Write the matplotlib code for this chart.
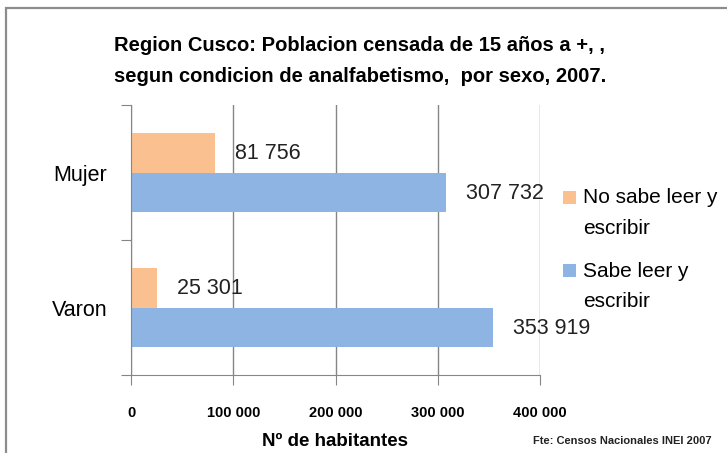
import matplotlib.pyplot as plt
import matplotlib.ticker as ticker
from matplotlib.patches import Rectangle
import numpy as np

# Data
categories = ['Varon', 'Mujer']
no_sabe = [25301, 81756]
sabe = [353919, 307732]
series_names = ['No sabe leer y\nescribir', 'Sabe leer y\nescribir']
x_ticks = [0, 100000, 200000, 300000, 400000]

ORANGE = '#FAC090'
BLUE = '#8EB4E3'
GRID = '#868686'

plt.rcParams['font.family'] = ['Liberation Sans', 'DejaVu Sans']

fig = plt.figure(figsize=(7.27, 4.53), dpi=100)
W, H = 727, 453

# outer chart frame (partly cut off on the right/bottom)
frame = Rectangle((6 / W, -0.1), 1.2, 1 - 8 / H + 0.1, transform=fig.transFigure,
                  fill=False, edgecolor='#8c8c8c', linewidth=1.6)
fig.patches.append(frame)

ax = fig.add_axes([131 / W, 1 - 375 / H, (540 - 131) / W, (375 - 105) / H])

y = np.arange(len(categories))
h = 0.296
ax.barh(y + h / 2, no_sabe, height=h, color=ORANGE, label=series_names[0], zorder=3)
ax.barh(y - h / 2, sabe, height=h, color=BLUE, label=series_names[1], zorder=3)

def fmt(v):
    return '{:,}'.format(v).replace(',', ' ')

for yi, v in zip(y, no_sabe):
    ax.annotate(fmt(v), (v, yi + h / 2), xytext=(20, -1), textcoords='offset pixels',
                va='center', ha='left', fontsize=15.5, color='#222222', zorder=4)
for yi, v in zip(y, sabe):
    ax.annotate(fmt(v), (v, yi - h / 2), xytext=(20, -1), textcoords='offset pixels',
                va='center', ha='left', fontsize=15.5, color='#222222', zorder=4)

ax.set_xlim(0, 400000)
ax.set_ylim(-0.5, 1.5)

ax.xaxis.set_major_locator(ticker.FixedLocator(x_ticks))
ax.set_xticklabels([fmt(v) for v in x_ticks], fontsize=10.5, fontweight='bold')
ax.tick_params(axis='x', direction='out', length=7, color=GRID, pad=15)

ax.yaxis.set_major_locator(ticker.FixedLocator([-0.5, 0.5, 1.5]))
ax.yaxis.set_major_formatter(ticker.NullFormatter())
ax.yaxis.set_minor_locator(ticker.FixedLocator(y))
ax.yaxis.set_minor_formatter(ticker.FixedFormatter(categories))
ax.tick_params(axis='y', which='major', direction='out', length=7, color=GRID)
ax.tick_params(axis='y', which='minor', length=0, labelsize=15.5, pad=17)

ax.grid(axis='x', color=GRID, linewidth=1, zorder=0)
for s in ['top', 'right']:
    ax.spines[s].set_visible(False)
for s in ['left', 'bottom']:
    ax.spines[s].set_color(GRID)
    ax.spines[s].set_zorder(5)

ax.set_xlabel('Nº de habitantes', fontsize=13.5, fontweight='bold', labelpad=10)

fig.text(360 / W, 1 - 61 / H, 'Region Cusco: Poblacion censada de 15 años a +, ,\n'
         'segun condicion de analfabetismo,  por sexo, 2007.',
         ha='center', va='center', fontsize=14.5, fontweight='bold',
         linespacing=1.8)

fig.text(712 / W, 1 - 441 / H, 'Fte: Censos Nacionales INEI 2007',
         ha='right', va='center', fontsize=8, fontweight='bold', color='#222222')

handles, labels = ax.get_legend_handles_labels()
leg = fig.legend(handles, labels, loc='upper left', bbox_to_anchor=(555 / W, 1 - 180 / H),
                 frameon=False, fontsize=15, handlelength=0.6, handleheight=0.6,
                 handletextpad=0.33, labelspacing=1.15, borderaxespad=0)
for t in leg.get_texts():
    t.set_linespacing(1.75)
# put the colour squares next to the first line of each label
for p in leg.legend_handles:
    p.set_y(p.get_y() + 11.5)

fig.savefig('out.png', dpi=100)
